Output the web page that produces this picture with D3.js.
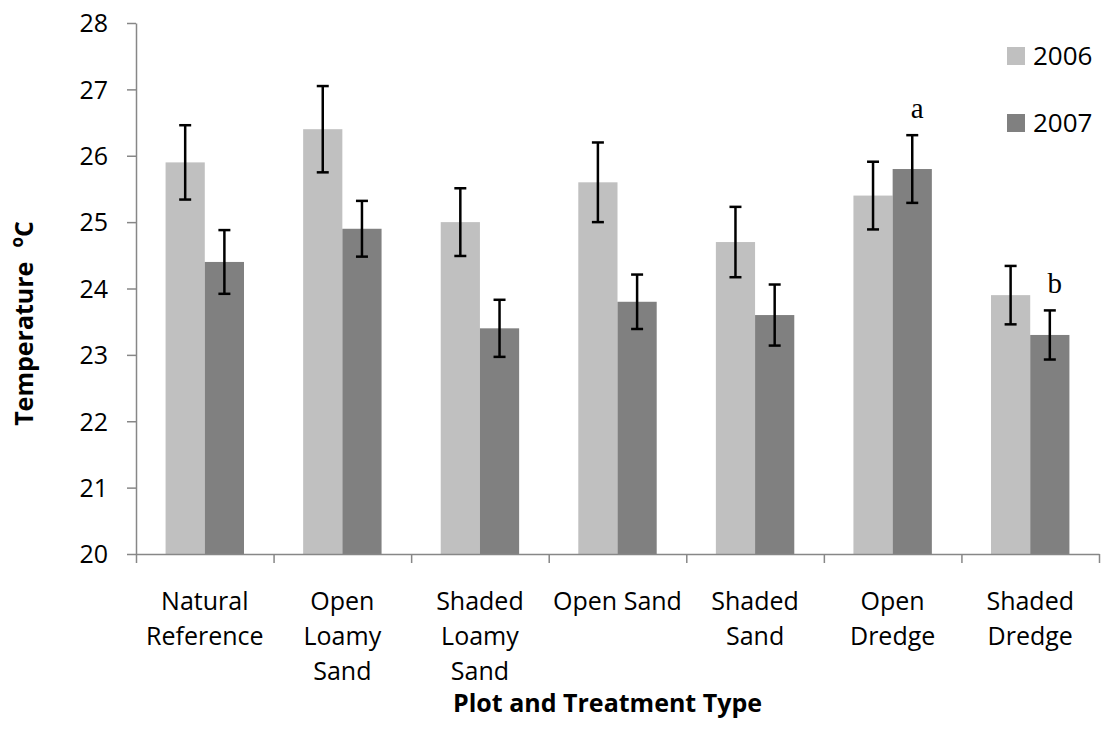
<!DOCTYPE html>
<html>
<head>
    <script src="https://cdnjs.cloudflare.com/ajax/libs/d3/7.8.5/d3.min.js"></script>
    <style>
        body { margin: 0; background: white; }
        .tick-label { font-family: "Open Sans", sans-serif; font-size: 25px; fill: #000; }
        .cat-label { font-family: "Open Sans", sans-serif; font-size: 25px; fill: #000; }
        .axis-title { font-family: "Open Sans", sans-serif; font-size: 25px; font-weight: bold; fill: #000; }
        .legend-label { font-family: "Open Sans", sans-serif; font-size: 26px; fill: #000; }
        .note { font-family: "Liberation Serif", "Times New Roman", serif; font-size: 29px; fill: #000; }
    </style>
</head>
<body>
    <svg width="1101" height="744"></svg>
    <script>
        // Data
        const categories = ["Natural Reference", "Open Loamy Sand", "Shaded Loamy Sand", "Open Sand",
                            "Shaded Sand", "Open Dredge", "Shaded Dredge"];
        const tickLabels = [["Natural", "Reference"], ["Open", "Loamy", "Sand"], ["Shaded", "Loamy", "Sand"],
                            ["Open Sand"], ["Shaded", "Sand"], ["Open", "Dredge"], ["Shaded", "Dredge"]];
        const series = ["2006", "2007"];
        const values2006 = [25.9, 26.4, 25.0, 25.6, 24.7, 25.4, 23.9];
        const values2007 = [24.4, 24.9, 23.4, 23.8, 23.6, 25.8, 23.3];
        const errors2006 = [0.56, 0.65, 0.51, 0.60, 0.53, 0.51, 0.44];
        const errors2007 = [0.48, 0.42, 0.43, 0.41, 0.46, 0.51, 0.37];
        const yTicks = [20, 21, 22, 23, 24, 25, 26, 27, 28];
        const notes = [{ category: "Open Dredge", series: "2007", text: "a" },
                       { category: "Shaded Dredge", series: "2007", text: "b" }];

        const colors = { "2006": "#c0c0c0", "2007": "#808080" };
        const axisColor = "#878787";

        const data = [];
        categories.forEach((c, i) => {
            data.push({ category: c, series: "2006", value: values2006[i], err: errors2006[i] });
            data.push({ category: c, series: "2007", value: values2007[i], err: errors2007[i] });
        });

        const margin = { top: 23, right: 2, bottom: 190, left: 136 };
        const width = 1101 - margin.left - margin.right;
        const height = 744 - margin.top - margin.bottom;

        const svg = d3.select("svg")
            .append("g")
            .attr("transform", `translate(${margin.left},${margin.top})`);

        // Scales
        const x = d3.scaleBand()
            .domain(categories)
            .range([0, width])
            .paddingInner(0.43)
            .paddingOuter(0.215);

        const xSub = d3.scaleBand()
            .domain(series)
            .range([0, x.bandwidth()]);

        const y = d3.scaleLinear()
            .domain([20, 28])
            .range([height, 0]);

        // Bars
        svg.selectAll(".bar")
            .data(data)
            .enter()
            .append("rect")
            .attr("class", "bar")
            .attr("x", d => x(d.category) + xSub(d.series))
            .attr("y", d => y(d.value))
            .attr("width", xSub.bandwidth())
            .attr("height", d => height - y(d.value))
            .attr("fill", d => colors[d.series]);

        // Error bars
        const capW = 6;
        const eb = svg.selectAll(".err")
            .data(data)
            .enter()
            .append("g")
            .attr("class", "err")
            .attr("stroke", "#000")
            .attr("stroke-width", 2.5);
        const cx = d => x(d.category) + xSub(d.series) + xSub.bandwidth() / 2;
        eb.append("line")
            .attr("x1", cx).attr("x2", cx)
            .attr("y1", d => y(d.value + d.err))
            .attr("y2", d => y(d.value - d.err));
        eb.append("line")
            .attr("x1", d => cx(d) - capW).attr("x2", d => cx(d) + capW)
            .attr("y1", d => y(d.value + d.err)).attr("y2", d => y(d.value + d.err));
        eb.append("line")
            .attr("x1", d => cx(d) - capW).attr("x2", d => cx(d) + capW)
            .attr("y1", d => y(d.value - d.err)).attr("y2", d => y(d.value - d.err));

        // Y axis
        const yAxis = svg.append("g")
            .call(d3.axisLeft(y)
                .tickValues(yTicks)
                .tickSize(9)
                .tickSizeOuter(0)
                .tickPadding(19)
                .tickFormat(d3.format("d")));
        yAxis.attr("font-size", null).attr("font-family", null);
        yAxis.select(".domain").attr("stroke", axisColor).attr("stroke-width", 1.5);
        yAxis.selectAll(".tick line").attr("stroke", axisColor).attr("stroke-width", 1.5);
        yAxis.selectAll(".tick text")
            .attr("class", "tick-label")
            .style("font-size", "25px")
            .attr("dy", "0.35em");

        // X axis: ticks on category boundaries
        const xBound = d3.scaleLinear().domain([0, categories.length]).range([0, width]);
        const xAxis = svg.append("g")
            .attr("transform", `translate(0,${height})`)
            .call(d3.axisBottom(xBound)
                .tickValues(d3.range(categories.length + 1))
                .tickSize(9)
                .tickSizeOuter(0)
                .tickFormat(""));
        xAxis.select(".domain").attr("stroke", axisColor).attr("stroke-width", 1.5);
        xAxis.selectAll(".tick line").attr("stroke", axisColor).attr("stroke-width", 1.5);

        // Category labels
        const catG = svg.selectAll(".cat")
            .data(categories)
            .enter()
            .append("text")
            .attr("class", "cat-label")
            .attr("text-anchor", "middle")
            .attr("transform", d => `translate(${x(d) + x.bandwidth() / 2},${height + 56})`);
        catG.selectAll("tspan")
            .data((d, i) => tickLabels[i])
            .enter()
            .append("tspan")
            .attr("x", 0)
            .attr("y", (d, i) => i * 35)
            .text(d => d);

        // Axis titles
        svg.append("text")
            .attr("class", "axis-title")
            .attr("text-anchor", "middle")
            .attr("x", width / 2 - 10)
            .attr("y", height + 158)
            .text("Plot and Treatment Type");

        const yTitle = svg.append("text")
            .attr("class", "axis-title")
            .attr("text-anchor", "middle")
            .attr("transform", `translate(${-103},${height / 2 + 35}) rotate(-90)`);
        yTitle.append("tspan").text("Temperature");
        yTitle.append("tspan").attr("font-size", "17px").attr("dx", "14").attr("dy", "-10").text("o");
        yTitle.append("tspan").attr("dy", "10").text("C");

        // Significance letters
        svg.selectAll(".note")
            .data(notes)
            .enter()
            .append("text")
            .attr("class", "note")
            .attr("text-anchor", "middle")
            .attr("x", d => x(d.category) + xSub(d.series) + xSub.bandwidth() / 2 + 5)
            .attr("y", d => {
                const row = data.find(r => r.category === d.category && r.series === d.series);
                return y(row.value + row.err) - 17;
            })
            .text(d => d.text);

        // Legend
        const legend = svg.selectAll(".legend")
            .data(series)
            .enter()
            .append("g")
            .attr("transform", (d, i) => `translate(${width - 92},${24 + i * 67})`);
        legend.append("rect")
            .attr("width", 18).attr("height", 18)
            .attr("fill", d => colors[d]);
        legend.append("text")
            .attr("class", "legend-label")
            .attr("x", 26)
            .attr("y", 18)
            .text(d => d);
    </script>
</body>
</html>
